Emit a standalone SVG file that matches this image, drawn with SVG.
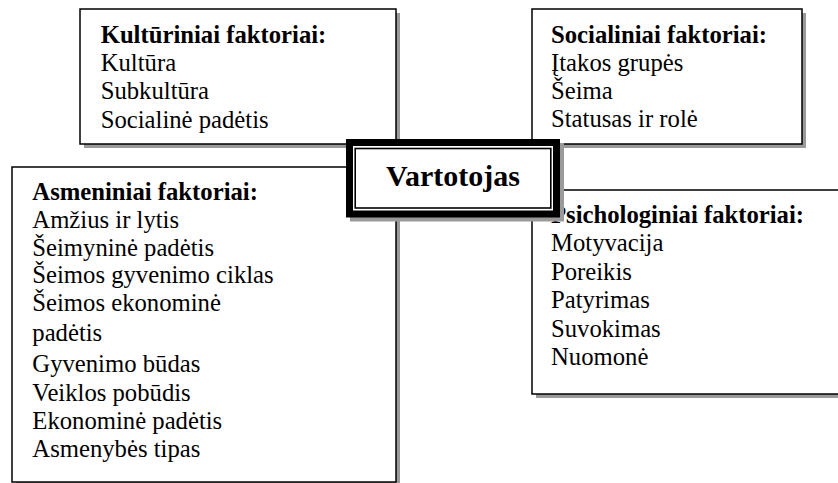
<svg xmlns="http://www.w3.org/2000/svg" width="838" height="483" viewBox="0 0 838 483">
<style>
.box{fill:#fff;stroke:#000;stroke-width:1.5}
.sh{fill:#9a9a9a}
text{font-family:"Liberation Serif","Times New Roman",serif;font-size:24.7px;fill:#000}
.t{font-weight:bold}
.c{font-weight:bold;font-size:30px;text-anchor:middle}
</style>
<rect width="838" height="483" fill="#fff"/>
<g id="kulturiniai">
<rect class="sh" x="84" y="13" width="316" height="135"/>
<rect class="box" x="80" y="9" width="316" height="135"/>
<text class="t" x="100.7" y="42.7">Kultūriniai faktoriai:</text>
<text x="100.7" y="71">Kultūra</text>
<text x="100.7" y="99.3">Subkultūra</text>
<text x="100.7" y="127.7">Socialinė padėtis</text>
</g>
<g id="socialiniai">
<rect class="sh" x="536" y="13" width="270" height="135"/>
<rect class="box" x="532" y="9" width="270" height="135"/>
<text class="t" x="551" y="43.3">Socialiniai faktoriai:</text>
<text x="551" y="71.3">Įtakos grupės</text>
<text x="551" y="99.3">Šeima</text>
<text x="551" y="127.3">Statusas ir rolė</text>
</g>
<g id="asmeniniai">
<rect class="sh" x="16" y="171" width="384" height="315"/>
<rect class="box" x="12" y="167" width="384" height="315"/>
<text class="t" x="32.3" y="200">Asmeniniai faktoriai:</text>
<text x="32.3" y="228.3">Amžius ir lytis</text>
<text x="32.3" y="255.7">Šeimyninė padėtis</text>
<text x="32.3" y="283.3">Šeimos gyvenimo ciklas</text>
<text x="32.3" y="310.7">Šeimos ekonominė</text>
<text x="32.3" y="341">padėtis</text>
<text x="32.3" y="372.3">Gyvenimo būdas</text>
<text x="32.3" y="400.7">Veiklos pobūdis</text>
<text x="32.3" y="428.7">Ekonominė padėtis</text>
<text x="32.3" y="457.3">Asmenybės tipas</text>
</g>
<g id="psichologiniai">
<rect class="sh" x="536" y="194" width="320" height="204"/>
<rect class="box" x="532" y="190" width="320" height="204"/>
<text class="t" x="551" y="223.3">Psichologiniai faktoriai:</text>
<text x="551" y="251">Motyvacija</text>
<text x="551" y="280">Poreikis</text>
<text x="551" y="308.3">Patyrimas</text>
<text x="551" y="336.7">Suvokimas</text>
<text x="551" y="365">Nuomonė</text>
</g>
<g id="connectors"></g>
<g id="vartotojas">
<rect class="sh" x="350" y="143" width="214" height="78.5"/>
<rect x="346" y="139" width="214" height="78.5" fill="#000"/>
<rect x="353" y="146" width="200" height="64.5" fill="#fff"/>
<rect x="355.2" y="148.5" width="195.6" height="59.5" fill="none" stroke="#000" stroke-width="1.6"/>
<text class="c" x="453" y="186">Vartotojas</text>
</g>
</svg>
